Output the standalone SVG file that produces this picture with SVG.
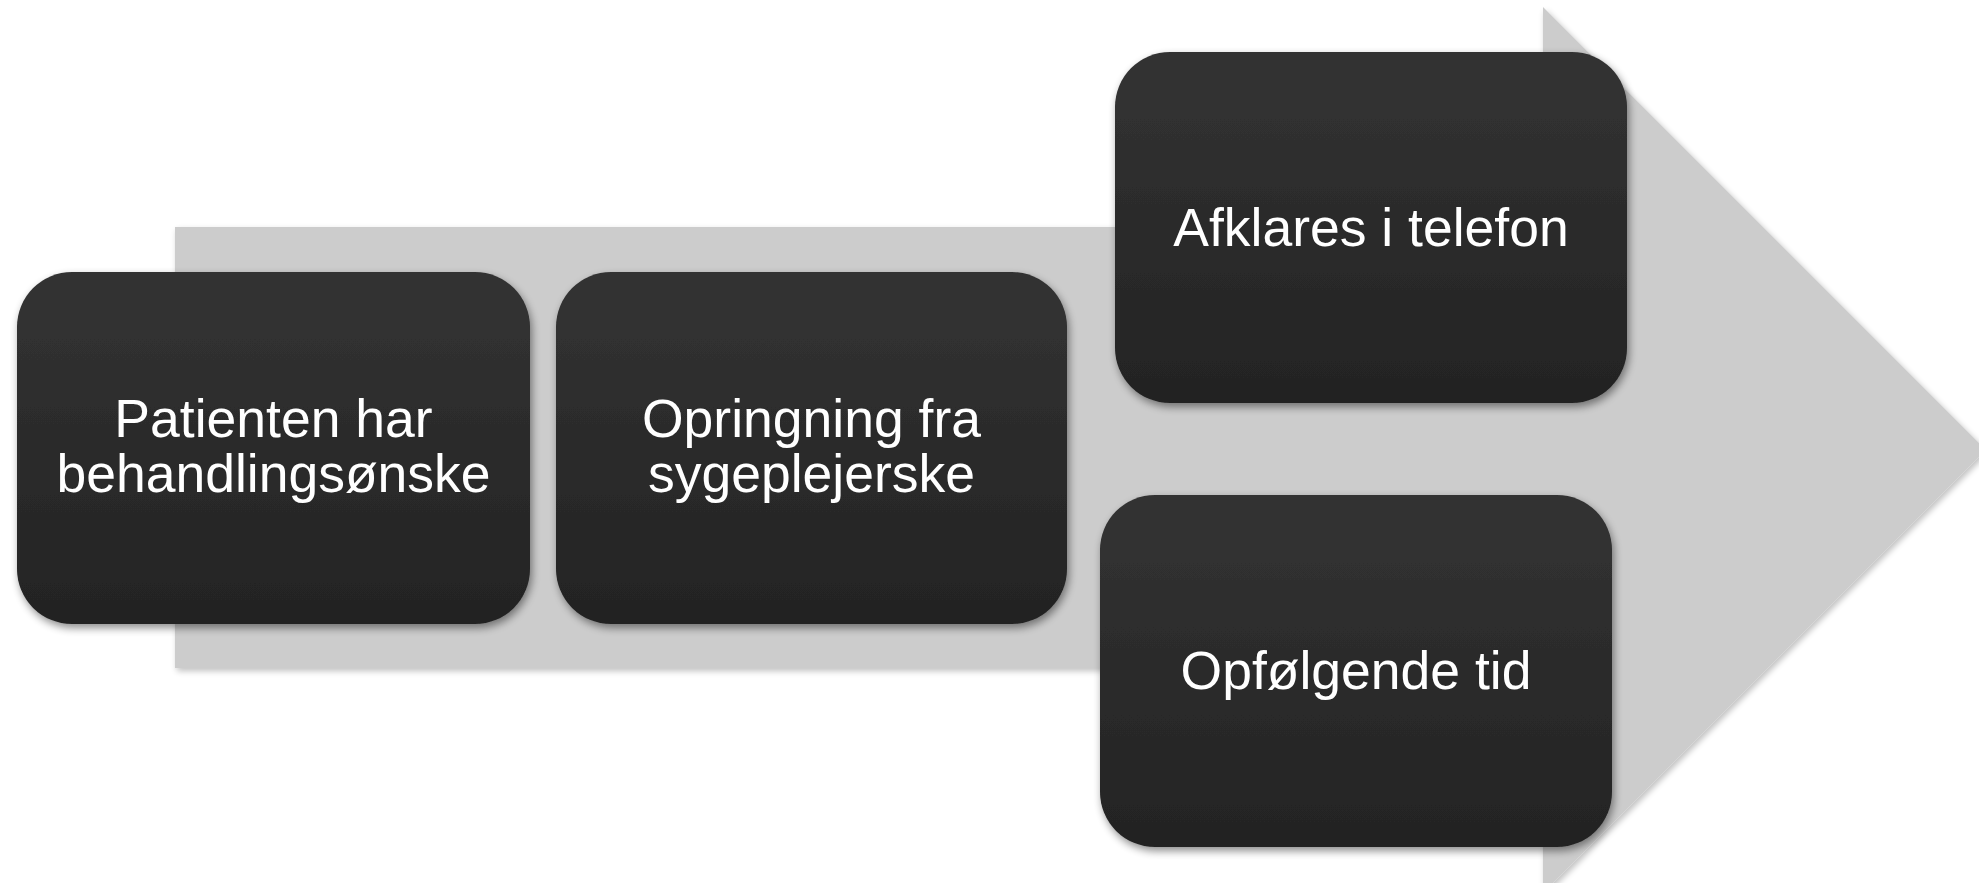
<svg xmlns="http://www.w3.org/2000/svg" width="1979" height="883" viewBox="0 0 1979 883">
<style>
.box{fill:url(#g);filter:url(#sh)}
.lbl{font-family:"Liberation Sans",Arial,sans-serif;font-size:53.5px;fill:#ffffff;text-anchor:middle}
</style>
<defs>
<linearGradient id="g" x1="0" y1="0" x2="0" y2="1">
<stop offset="0" stop-color="#333333"/>
<stop offset="1" stop-color="#232323"/>
</linearGradient>
<filter id="sh" x="-10%" y="-10%" width="125%" height="130%">
<feGaussianBlur in="SourceAlpha" stdDeviation="4"/>
<feOffset dx="2" dy="4" result="b"/>
<feComponentTransfer><feFuncA type="linear" slope="0.45"/></feComponentTransfer>
<feMerge><feMergeNode/><feMergeNode in="SourceGraphic"/></feMerge>
</filter>
<filter id="ash" x="-5%" y="-5%" width="110%" height="110%">
<feGaussianBlur in="SourceAlpha" stdDeviation="3"/>
<feOffset dx="2" dy="3" result="b"/>
<feComponentTransfer><feFuncA type="linear" slope="0.25"/></feComponentTransfer>
<feMerge><feMergeNode/><feMergeNode in="SourceGraphic"/></feMerge>
</filter>
</defs>
<rect width="1979" height="883" fill="#ffffff"/>
<g id="arrow">
<path d="M175,227 H1543 V7 L1986,450 L1543,893 V668 H175 Z" fill="#cccccc" filter="url(#ash)"/>
</g>
<g id="connectors"/>
<g id="n1">
<rect class="box" x="17" y="272" width="513" height="352" rx="55" ry="55"/>
<text class="lbl" x="273.5" y="437">Patienten har</text>
<text class="lbl" x="273.5" y="492">behandlingsønske</text>
</g>
<g id="n2">
<rect class="box" x="556" y="272" width="511" height="352" rx="55" ry="55"/>
<text class="lbl" x="811.5" y="437">Opringning fra</text>
<text class="lbl" x="811.5" y="492">sygeplejerske</text>
</g>
<g id="n3">
<rect class="box" x="1115" y="52" width="512" height="351" rx="55" ry="55"/>
<text class="lbl" x="1371" y="246">Afklares i telefon</text>
</g>
<g id="n4">
<rect class="box" x="1100" y="495" width="512" height="352" rx="55" ry="55"/>
<text class="lbl" x="1356" y="689">Opfølgende tid</text>
</g>
</svg>
